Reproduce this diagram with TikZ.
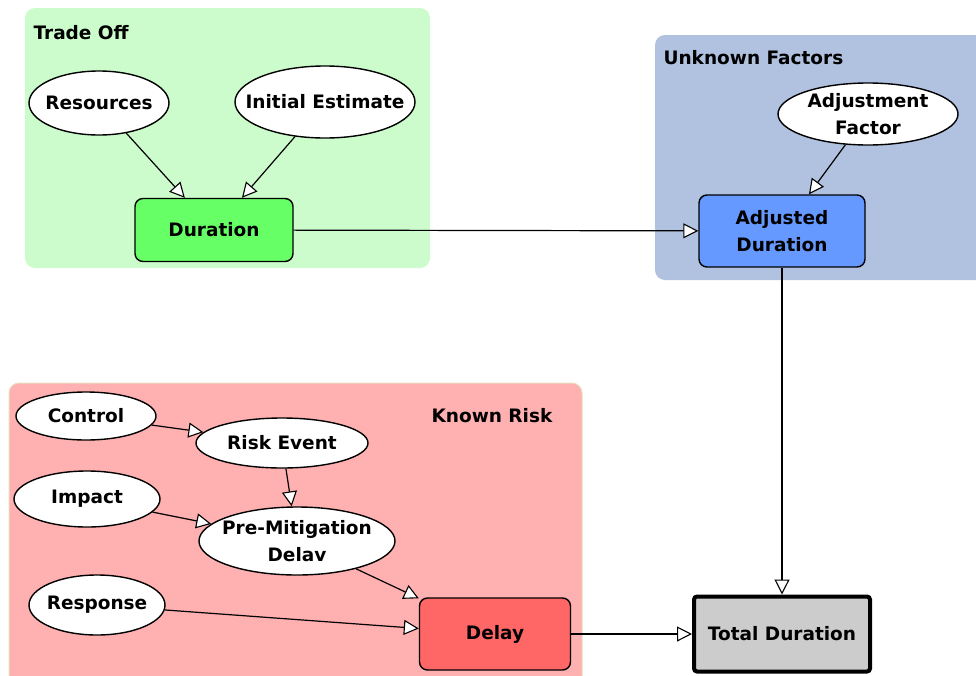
\documentclass[tikz,border=0pt]{standalone}
\usepackage{fontspec}
\setmainfont{DejaVu Sans}
\usetikzlibrary{shapes.geometric,arrows.meta}

\definecolor{tradebg}{HTML}{CCFCCC}
\definecolor{unknownbg}{HTML}{B0C2E0}
\definecolor{riskbg}{HTML}{FFB0B0}
\definecolor{riskedge}{HTML}{E8DDBE}
\definecolor{durfill}{HTML}{66FF66}
\definecolor{adjfill}{HTML}{6699FF}
\definecolor{delfill}{HTML}{FF6666}
\definecolor{totfill}{HTML}{CCCCCC}

\tikzset{
  lbl/.style={font=\fontsize{18.5}{27}\selectfont\bfseries, text=black},
  chance/.style={lbl, ellipse, draw=black, line width=1.4pt, fill=white,
    inner xsep=-30pt, inner ysep=-12pt, align=center},
  calc/.style={lbl, rectangle, rounded corners=8pt, draw=black, line width=1.4pt,
    inner sep=0pt, align=center},
  link/.style={line width=1.2pt,
    -{Triangle[length=15pt,width=15pt,fill=white,line width=1.1pt]}},
  grouptitle/.style={lbl, anchor=west}
}

\begin{document}
\begin{tikzpicture}[x=1pt,y=-1pt]
\useasboundingbox (0,0) rectangle (976,675);
\clip (0,0) rectangle (976,675);

% group backgrounds
\fill[tradebg, rounded corners=10pt] (25,8) rectangle (430,268);
\fill[unknownbg, rounded corners=10pt] (655,35) rectangle (995,280);
\filldraw[fill=riskbg, draw=riskedge, line width=1pt, rounded corners=10pt] (9,383) rectangle (582,700);

\node[grouptitle] (ttrade) at (30,33) {Trade Off};
\node[grouptitle] (tunknown) at (660,58) {Unknown Factors};
\node[grouptitle] (trisk) at (428,416) {Known Risk};

% Trade Off
\node[chance, minimum width=140pt, minimum height=64pt] (res) at (99,103) {Resources};
\node[chance, minimum width=180pt, minimum height=72pt] (ini) at (325,102) {Initial Estimate};
\node[calc, fill=durfill, minimum width=158pt, minimum height=63pt] (dur) at (214,230) {Duration};

% Unknown Factors
\node[chance, minimum width=180pt, minimum height=62pt] (adjf) at (868,114) {Adjustment\\Factor};
\node[calc, fill=adjfill, minimum width=166pt, minimum height=72pt] (adj) at (782,231) {Adjusted\\Duration};

% Known Risk
\node[chance, minimum width=140pt, minimum height=48pt] (ctl) at (86,416) {Control};
\node[chance, minimum width=146pt, minimum height=56pt] (imp) at (87,499) {Impact};
\node[chance, minimum width=172pt, minimum height=50pt] (rev) at (282,443) {Risk Event};
\node[chance, minimum width=196pt, minimum height=68pt] (pmd) at (297,541) {Pre-Mitigation\\Delav};
\node[chance, minimum width=136pt, minimum height=60pt] (rsp) at (97,605) {Response};
\node[calc, fill=delfill, minimum width=151pt, minimum height=72pt] (del) at (495,634) {Delay};

% result
\node[calc, fill=totfill, rounded corners=3pt, line width=4pt,
  minimum width=176pt, minimum height=75pt] (tot) at (782,634) {Total Duration};

% connectors
\draw[link] (res) -- (dur);
\draw[link] (ini) -- (dur);
\draw[link] (adjf) -- (adj);
\draw[link] (dur) -- (adj);
\draw[link] (ctl) -- (rev);
\draw[link] (rev) -- (pmd);
\draw[link] (imp) -- (pmd);
\draw[link] (pmd) -- (del);
\draw[link] (rsp) -- (del);
\draw[link] (del) -- (tot);
\draw[link] (adj) -- (tot);
\end{tikzpicture}
\end{document}
